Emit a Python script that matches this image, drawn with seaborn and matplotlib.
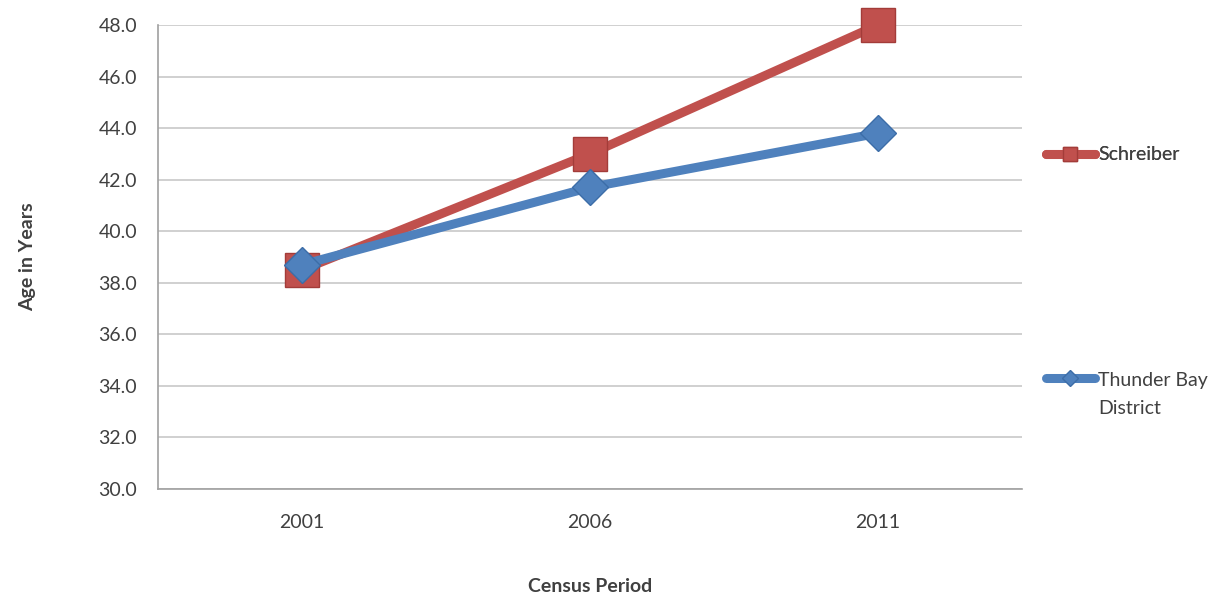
import matplotlib
matplotlib.use("Agg")
import matplotlib.pyplot as plt
import matplotlib.transforms as mtransforms
from matplotlib.lines import Line2D
from matplotlib.legend_handler import HandlerLine2D
import seaborn as sns
import pandas as pd

periods = ["2001", "2006", "2011"]
schreiber = [38.5, 43.0, 48.0]
thunder_bay = [38.7, 41.7, 43.8]
series_names = ["Schreiber", "Thunder Bay District"]
legend_labels = ["Schreiber", "Thunder Bay\nDistrict"]
y_ticks = [30, 32, 34, 36, 38, 40, 42, 44, 46, 48]

RED = "#C0504D"
BLUE = "#4F81BD"

df = pd.DataFrame({
    "pos": list(range(len(periods))) * 2,
    "age": schreiber + thunder_bay,
    "series": [series_names[0]] * len(periods) + [series_names[1]] * len(periods),
})

sns.set_theme(style="white")
plt.rcParams["font.family"] = ["Lato", "DejaVu Sans"]
text_color = "#404040"
FS = 14

fig = plt.figure(figsize=(12.3, 5.98), dpi=100)
ax = fig.add_axes([158 / 1230, 1 - 489 / 598, (1022 - 158) / 1230, (489 - 25) / 598])

sns.lineplot(
    data=df, x="pos", y="age", hue="series", style="series",
    hue_order=series_names, style_order=series_names,
    palette={series_names[0]: RED, series_names[1]: BLUE},
    markers={series_names[0]: "s", series_names[1]: "D"},
    dashes=False, linewidth=6.5, ax=ax, legend=False,
)
for line in ax.lines:
    line.set_clip_on(False)
    line.set_solid_capstyle("round")
    if line.get_marker() == "s":
        line.set_markersize(24)
        line.set_markeredgecolor("#A33C39")
    else:
        line.set_markersize(18)
        line.set_markeredgecolor("#3C6DA8")
    line.set_markeredgewidth(1)

ax.set_xlim(-0.5, len(periods) - 0.5)
ax.set_ylim(30, 48)
ax.set_yticks(y_ticks)
ax.set_yticklabels([f"{v:.1f}" for v in y_ticks])
ax.set_xticks(range(len(periods)))
ax.set_xticklabels(periods)
ax.set_xticks([i - 0.5 for i in range(len(periods) + 1)], minor=True)
ax.tick_params(axis="x", which="major", length=0, pad=18, labelsize=FS, colors=text_color)
ax.tick_params(axis="x", which="minor", length=7, width=1, color="#a0a0a0", direction="out")
ax.tick_params(axis="y", length=7, width=1, color="#a0a0a0", direction="out", pad=8,
               labelsize=FS, labelcolor=text_color)
ax.yaxis.grid(True, color="#c8c8c8", linewidth=1.2)
ax.xaxis.grid(False)
ax.set_axisbelow(True)
for s in ["top", "right"]:
    ax.spines[s].set_visible(False)
for s in ["left", "bottom"]:
    ax.spines[s].set_color("#a0a0a0")
    ax.spines[s].set_linewidth(1.2)

ax.set_xlabel("Census Period", fontsize=FS, fontweight="bold", color=text_color, labelpad=34)
ax.set_ylabel("Age in Years", fontsize=FS, fontweight="bold", color=text_color, labelpad=45)


class UpperHandler(HandlerLine2D):
    def __init__(self, dy=0, **kw):
        super().__init__(**kw)
        self.dy = dy

    def create_artists(self, legend, orig_handle, xdescent, ydescent, width, height,
                       fontsize, trans):
        arts = super().create_artists(legend, orig_handle, xdescent, ydescent, width,
                                      height, fontsize, trans)
        t = trans + mtransforms.Affine2D().translate(0, self.dy)
        for a in arts:
            a.set_transform(t)
        return arts


h1 = Line2D([], [], color=RED, lw=6.5, marker="s", markersize=10, markeredgecolor="#A33C39",
            solid_capstyle="round")
h2 = Line2D([], [], color=BLUE, lw=6.5, marker="D", markersize=8, markeredgecolor="#3C6DA8",
            solid_capstyle="round")
leg1 = fig.legend(handles=[h1], labels=[legend_labels[0]], loc="center left",
                  bbox_to_anchor=(1046 / 1230, 1 - 155 / 598), frameon=False,
                  handlelength=2.5, handletextpad=0.2, fontsize=FS, labelcolor=text_color,
                  borderpad=0, borderaxespad=0)
leg2 = fig.legend(handles=[h2], labels=[legend_labels[1]], loc="upper left",
                  bbox_to_anchor=(1046 / 1230, 1 - 372 / 598), frameon=False,
                  handlelength=2.5, handletextpad=0.2, fontsize=FS, labelcolor=text_color,
                  borderpad=0, borderaxespad=0,
                  handler_map={h2: UpperHandler(dy=16.5)})
for t in leg2.get_texts():
    t.set_linespacing(1.75)
fig.add_artist(leg1)

fig.savefig("out.png", dpi=100)
